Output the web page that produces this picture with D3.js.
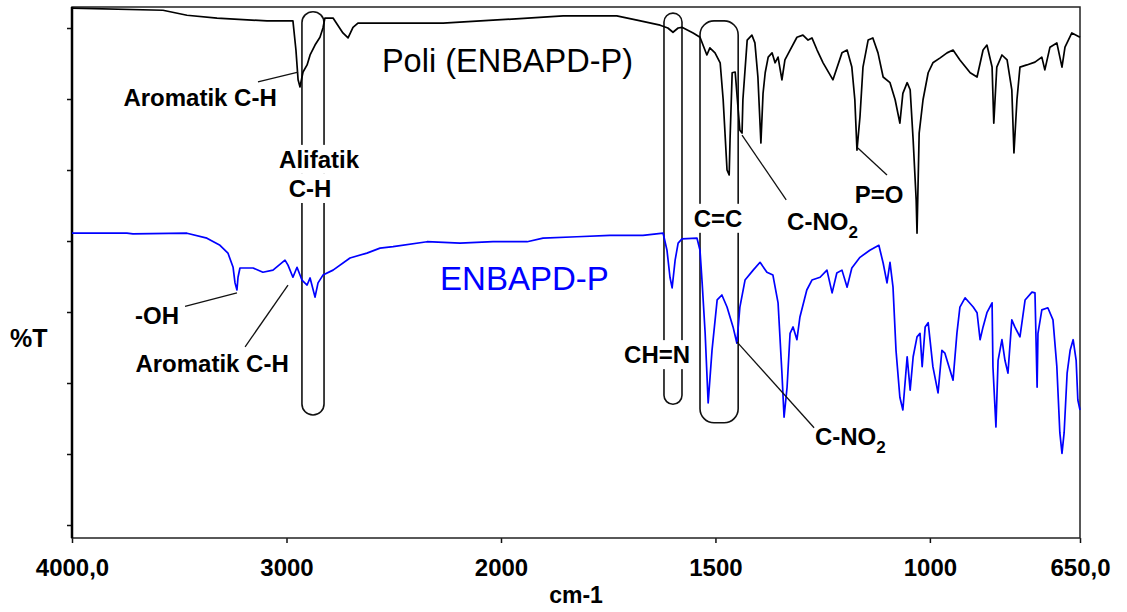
<html>
<head>
<script src="https://cdn.jsdelivr.net/npm/d3@7"></script>
<style>
  body { margin: 0; background: #fff; }
  text { font-family: "Liberation Sans", Arial, sans-serif; }
</style>
</head>
<body>
<svg width=1127 height=612></svg>
<script>
// Poli (ENBAPD-P) spectrum (wavenumber, %T)
const polyWn = [4000,3576,3464,3324,3091,2970,2956,2946,2937,2923,2904,2890,2867,2844,2830,2821,2783,2737,2713,2690,2667,2564,2457,2270,2037,1855,1730,1683,1629,1611,1599,1587,1578,1552,1536,1520,1513,1501,1489,1482,1473,1468,1466,1461,1454,1447,1443,1438,1436,1426,1415,1408,1401,1394,1389,1384,1377,1368,1361,1354,1345,1338,1326,1310,1296,1284,1275,1263,1249,1226,1205,1193,1182,1175,1170,1163,1156,1144,1133,1121,1109,1093,1081,1070,1063,1053,1046,1039,1032,1030,1025,1016,1004,993,976,960,946,930,906,890,876,867,855,851,844,832,820,809,804,797,790,774,755,739,732,720,704,692,685,669,650];
const polyT = [72.8,72.5,71.8,71.4,71.0,71.0,66.9,62.7,61.7,63.8,64.8,66.2,67.6,68.7,70.0,71.4,71.4,69.3,68.6,70.1,70.7,70.7,70.7,70.7,71.1,71.7,71.7,71.1,70.4,70.0,69.4,70.0,70.1,69.3,68.7,66.2,67.2,66.5,65.1,59.9,50.0,49.3,54.2,63.7,63.8,58.5,55.6,55.2,59.9,68.3,69.0,67.9,63.1,53.8,60.8,63.7,65.9,66.5,65.1,65.9,62.7,65.5,66.9,68.7,69.0,68.3,68.6,66.9,65.1,62.7,66.5,66.9,64.5,59.9,52.8,57.5,64.5,68.3,68.6,66.5,63.1,62.3,59.9,56.6,60.8,62.3,61.3,54.2,45.8,41.1,55.2,59.9,63.7,65.1,65.8,66.5,66.9,65.5,63.7,63.1,66.9,67.6,64.5,56.6,64.5,66.2,65.5,61.3,52.4,59.9,64.5,64.8,65.2,65.9,64.1,67.3,67.9,64.5,67.3,69.3,68.7];

// ENBAPD-P monomer spectrum
const monoWn = [4000,3744,3716,3464,3371,3310,3273,3249,3240,3231,3226,3217,3156,3110,3063,3007,2993,2970,2951,2928,2904,2890,2867,2853,2830,2783,2704,2625,2564,2503,2345,2191,2037,1939,1902,1823,1746,1669,1622,1613,1606,1601,1594,1587,1578,1543,1536,1531,1524,1517,1508,1496,1485,1473,1459,1450,1443,1431,1412,1396,1380,1366,1354,1345,1340,1333,1326,1319,1310,1303,1287,1275,1256,1240,1228,1217,1205,1193,1182,1163,1140,1119,1109,1100,1093,1086,1079,1070,1063,1053,1046,1039,1030,1023,1018,1011,1004,993,981,972,965,953,946,937,930,918,899,890,883,876,867,855,853,846,841,832,825,818,809,802,790,778,762,755,750,748,739,725,713,704,697,692,687,680,673,666,659,655,650];
const monoT = [41.1,41.1,41.0,41.1,40.4,39.4,38.3,36.3,34.1,33.1,34.9,36.2,36.2,35.6,35.9,37.3,36.6,34.9,36.3,34.5,33.8,34.8,32.1,34.1,35.2,35.9,37.6,38.3,39.0,39.2,39.9,39.7,39.9,39.9,40.4,40.6,40.8,40.8,41.1,38.7,34.9,33.4,37.3,39.7,40.3,40.4,38.7,34.1,27.0,17.2,24.6,31.7,32.4,30.7,27.9,25.6,30.7,34.5,35.9,37.0,35.6,35.2,31.3,21.4,15.2,19.4,27.0,27.9,26.1,29.3,33.1,34.5,34.9,35.9,32.7,35.5,35.9,33.5,36.2,37.7,38.7,39.4,36.9,34.1,37.0,33.5,24.6,18.0,16.2,23.7,19.0,23.7,26.5,27.0,22.3,27.9,28.5,22.3,18.6,24.6,24.2,21.8,20.4,27.0,30.7,32.0,30.7,29.9,26.1,27.9,29.9,31.3,22.3,13.8,23.2,26.1,23.2,21.4,28.9,27.9,26.5,31.7,32.8,32.7,19.4,27.0,30.3,30.6,28.9,22.3,13.0,10.1,13.0,21.4,24.6,26.1,23.2,17.6,16.2];

const xTicks = [4000, 3000, 2000, 1500, 1000, 650];
const xTickLabels = ["4000,0", "3000", "2000", "1500", "1000", "650,0"];
const yTicks = [0, 10, 20, 30, 40, 50, 60, 70];

// band boxes (wavenumber range, %T range)
const bands = [
  { wn: [2928, 2825], t: [72.3, 15.5], r: 11 },
  { wn: [1620, 1578], t: [72.1, 17.0], r: 9 },
  { wn: [1536, 1447], t: [71.0, 14.4], r: 14 }
];

// annotation texts, in data coordinates
const notes = [
  { text: "Aromatik C-H", wn: 3403, t: 59.0, anchor: "middle" },
  { text: "Alifatik", wn: 2848, t: 50.3, anchor: "middle", knock: true },
  { text: "C-H", wn: 2890, t: 46.2, anchor: "middle", knock: true },
  { text: "-OH", wn: 3706, t: 28.3, anchor: "start" },
  { text: "Aromatik C-H", wn: 3347, t: 21.5, anchor: "middle" },
  { text: "CH=N", wn: 1636, t: 22.8, anchor: "middle", knock: true },
  { text: "C=C", wn: 1494, t: 42.0, anchor: "middle", knock: true },
  { text: "C-NO", sub: "2", wn: 1333, t: 41.5, anchor: "start" },
  { text: "P=O", wn: 1175, t: 45.4, anchor: "start" },
  { text: "C-NO", sub: "2", wn: 1268, t: 11.3, anchor: "start" }
];

const leaders = [
  [[3133, 62.4], [2946, 63.8]],
  [[3473, 30.8], [3231, 32.7]],
  [[3193, 25.1], [2993, 33.8]],
  [[1438, 54.9], [1335, 45.8]],
  [[1168, 53.1], [1100, 49.3]],
  [[1450, 25.8], [1270, 13.7]]
];

const svg = d3.select('svg');
const margin = { left: 72, right: 47, top: 7, bottom: 74 };
const W = 1127, H = 612;

// spectrum axis: 2x expansion below 2000 cm-1
const x = d3.scaleLinear()
  .domain([4000, 2000, 650])
  .range([margin.left, margin.left + (W - margin.left - margin.right) * 429 / 1008, W - margin.right]);
const y = d3.scaleLinear()
  .domain([-1.83, 72.96])
  .range([H - margin.bottom, margin.top]);

// axes
svg.append('g')
  .attr('transform', `translate(${margin.left},0)`)
  .call(d3.axisLeft(y).tickValues(yTicks).tickSize(5).tickFormat(''))
  .call(g => g.select('.domain').remove())
  .call(g => g.selectAll('line').attr('stroke', '#111').attr('stroke-width', 1.5));

svg.append('g')
  .attr('transform', `translate(0,${H - margin.bottom})`)
  .call(d3.axisBottom(x).tickValues(xTicks).tickSize(5).tickFormat((d, i) => xTickLabels[i]))
  .call(g => g.select('.domain').remove())
  .call(g => g.selectAll('line').attr('stroke', '#111').attr('stroke-width', 1.5))
  .call(g => g.selectAll('text')
    .attr('y', 38).attr('dy', 0)
    .attr('fill', '#000')
    .style('font-size', '24px').style('font-weight', 'bold')
    .style('font-family', '"Liberation Sans", Arial, sans-serif'));

// frame
svg.append('rect')
  .attr('x', x(4000)).attr('y', y(72.96))
  .attr('width', x(650) - x(4000)).attr('height', y(-1.83) - y(72.96))
  .attr('fill', 'none').attr('stroke', '#222').attr('stroke-width', 1.5);
svg.append('line')
  .attr('x1', x(4000)).attr('x2', x(4000))
  .attr('y1', y(72.96)).attr('y2', y(-1.83))
  .attr('stroke', '#000').attr('stroke-width', 2.5);

// axis titles
svg.append('text').attr('x', 10).attr('y', 347)
  .style('font-size', '25px').style('font-weight', 'bold').text('%T');
svg.append('text').attr('x', (x(4000) + x(650)) / 2).attr('y', 603)
  .attr('text-anchor', 'middle')
  .style('font-size', '23px').style('font-weight', 'bold').text('cm-1');

// band boxes
svg.append('g').selectAll('rect')
  .data(bands)
  .join('rect')
  .attr('x', d => x(d.wn[0]))
  .attr('y', d => y(d.t[0]))
  .attr('width', d => x(d.wn[1]) - x(d.wn[0]))
  .attr('height', d => y(d.t[1]) - y(d.t[0]))
  .attr('rx', d => d.r).attr('ry', d => d.r)
  .attr('fill', 'none').attr('stroke', '#111').attr('stroke-width', 1.6);

// spectra
const line = d3.line().x(d => x(d[0])).y(d => y(d[1]));
svg.append('path')
  .datum(monoWn.map((w, i) => [w, monoT[i]]))
  .attr('d', line)
  .attr('fill', 'none').attr('stroke', '#0000ff').attr('stroke-width', 1.7)
  .attr('stroke-linejoin', 'round');
svg.append('path')
  .datum(polyWn.map((w, i) => [w, polyT[i]]))
  .attr('d', line)
  .attr('fill', 'none').attr('stroke', '#000').attr('stroke-width', 1.7)
  .attr('stroke-linejoin', 'round');

// leader lines
svg.append('g').selectAll('line')
  .data(leaders)
  .join('line')
  .attr('x1', d => x(d[0][0])).attr('y1', d => y(d[0][1]))
  .attr('x2', d => x(d[1][0])).attr('y2', d => y(d[1][1]))
  .attr('stroke', '#111').attr('stroke-width', 1.3);

// annotation labels
const noteG = svg.append('g');
const texts = noteG.selectAll('text')
  .data(notes)
  .join('text')
  .attr('x', d => x(d.wn))
  .attr('y', d => y(d.t))
  .attr('text-anchor', d => d.anchor)
  .style('font-size', '24px').style('font-weight', 'bold');
texts.append('tspan').text(d => d.text);
texts.filter(d => d.sub).append('tspan')
  .attr('dy', 8).style('font-size', '17px').text(d => d.sub);

// white knockout behind labels that sit on the boxes
texts.filter(d => d.knock).each(function () {
  const b = this.getBBox();
  noteG.insert('rect', 'text')
    .attr('x', b.x - 2).attr('y', b.y - 1)
    .attr('width', b.width + 4).attr('height', b.height + 2)
    .attr('fill', '#fff');
});

// series names
svg.append('text').attr('x', x(2555)).attr('y', y(63.8))
  .style('font-size', '32.5px').text('Poli (ENBAPD-P)');
svg.append('text').attr('x', x(2284)).attr('y', y(33.1))
  .attr('fill', '#0000ff')
  .style('font-size', '33px').text('ENBAPD-P');
</script>
</body>
</html>
